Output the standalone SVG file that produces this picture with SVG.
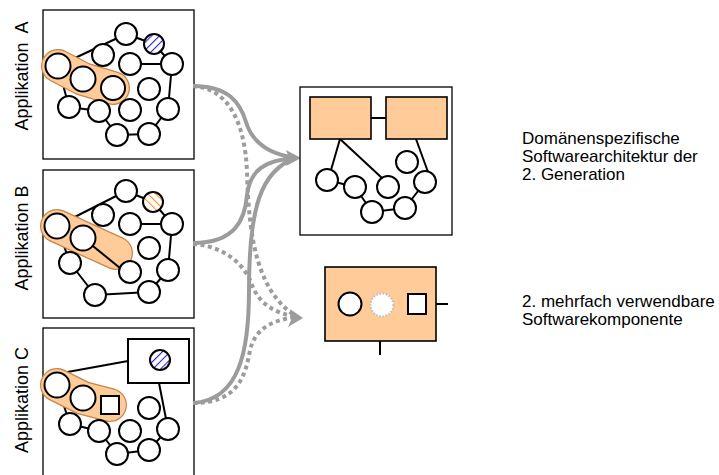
<svg xmlns="http://www.w3.org/2000/svg" width="719" height="475" viewBox="0 0 719 475">
  <defs>
    <pattern id="hatchBlue" patternUnits="userSpaceOnUse" width="5.5" height="5.5" patternTransform="rotate(45)">
      <rect width="5.5" height="5.5" fill="#ffffff"/>
      <line x1="0" y1="0" x2="0" y2="5.5" stroke="#2a2acc" stroke-width="2.2"/>
    </pattern>
    <pattern id="hatchOrange" patternUnits="userSpaceOnUse" width="5.5" height="5.5" patternTransform="rotate(-45)">
      <rect width="5.5" height="5.5" fill="#ffffff"/>
      <line x1="0" y1="0" x2="0" y2="5.5" stroke="#ff9933" stroke-width="2.2"/>
    </pattern>
  </defs>
  <style>
    .frame { fill: #ffffff; stroke: #000000; stroke-width: 1.3; }
    .n { fill: #ffffff; stroke: #000000; stroke-width: 2; }
    .e { stroke: #000000; stroke-width: 2; fill: none; }
    .blobOut { stroke: #c8844a; fill: none; stroke-linecap: round; stroke-linejoin: round; }
    .blobIn { stroke: #ffcc99; fill: none; stroke-linecap: round; stroke-linejoin: round; }
    .peach { fill: #ffcc99; stroke: #000000; stroke-width: 1.6; }
    .flow { fill: none; stroke: #9c9c9c; stroke-width: 4; }
    .dotted { stroke-dasharray: 4 3.5; }
    .head { fill: #9c9c9c; }
    .label { font-family: "Liberation Sans", Arial, sans-serif; font-size: 17px; fill: #000000; }
    .vlabel { font-family: "Liberation Sans", Arial, sans-serif; font-size: 18px; fill: #000000; text-anchor: middle; }
  </style>

  <!-- Application A -->
  <g id="app-a">
    <rect class="frame" x="43" y="10" width="151" height="149"/>
    <text class="vlabel" transform="translate(28,76) rotate(-90)" xml:space="preserve">Applikation  A</text>
    <g class="e">
      <line x1="126" y1="34" x2="58" y2="66"/>
      <line x1="126" y1="34" x2="154" y2="44"/>
      <line x1="154" y1="44" x2="172" y2="64"/>
      <line x1="130" y1="64" x2="172" y2="64"/>
      <line x1="172" y1="64" x2="168" y2="109"/>
      <line x1="168" y1="109" x2="149" y2="134"/>
      <line x1="149" y1="134" x2="117" y2="135"/>
      <line x1="117" y1="135" x2="99" y2="111"/>
      <line x1="99" y1="111" x2="69" y2="107"/>
      <line x1="69" y1="107" x2="58" y2="66"/>
    </g>
    <polyline class="blobOut" stroke-width="34" points="58,66 83,79 113,88"/>
    <polyline class="blobIn" stroke-width="31.5" points="58,66 83,79 113,88"/>
    <circle class="n" cx="126" cy="34" r="11"/>
    <circle class="n" cx="154" cy="44" r="10" style="fill:url(#hatchBlue)"/>
    <circle class="n" cx="103" cy="55" r="11"/>
    <circle class="n" cx="130" cy="64" r="11"/>
    <circle class="n" cx="172" cy="64" r="11"/>
    <circle class="n" cx="58" cy="66" r="12.5"/>
    <circle class="n" cx="83" cy="79" r="12.5"/>
    <circle class="n" cx="113" cy="88" r="12"/>
    <circle class="n" cx="149" cy="89" r="11"/>
    <circle class="n" cx="69" cy="107" r="11"/>
    <circle class="n" cx="99" cy="111" r="11"/>
    <circle class="n" cx="130" cy="110" r="11"/>
    <circle class="n" cx="168" cy="109" r="11"/>
    <circle class="n" cx="117" cy="135" r="11"/>
    <circle class="n" cx="149" cy="134" r="11"/>
  </g>

  <!-- Application B -->
  <g id="app-b">
    <rect class="frame" x="43" y="170" width="151" height="148"/>
    <text class="vlabel" transform="translate(28,238) rotate(-90)">Applikation B</text>
    <g class="e">
      <line x1="126" y1="191" x2="57" y2="226"/>
      <line x1="126" y1="191" x2="153" y2="202"/>
      <line x1="153" y1="202" x2="172" y2="224"/>
      <line x1="130" y1="224" x2="172" y2="224"/>
      <line x1="172" y1="224" x2="168" y2="270"/>
      <line x1="168" y1="270" x2="149" y2="292"/>
      <line x1="149" y1="292" x2="95" y2="295"/>
      <line x1="95" y1="295" x2="70" y2="263"/>
      <line x1="70" y1="263" x2="57" y2="226"/>
    </g>
    <polyline class="blobOut" stroke-width="34" points="57,226 83,238 116,253"/>
    <polyline class="blobIn" stroke-width="31.5" points="57,226 83,238 116,253"/>
    <line class="e" x1="83" y1="238" x2="120" y2="268"/>
    <circle class="n" cx="126" cy="191" r="11"/>
    <circle class="n" cx="153" cy="202" r="10" style="fill:url(#hatchOrange)"/>
    <circle class="n" cx="103" cy="215" r="11"/>
    <circle class="n" cx="130" cy="224" r="11"/>
    <circle class="n" cx="172" cy="224" r="11"/>
    <circle class="n" cx="57" cy="226" r="12.5"/>
    <circle class="n" cx="83" cy="238" r="12.5"/>
    <circle class="n" cx="149" cy="248" r="11"/>
    <circle class="n" cx="70" cy="263" r="11"/>
    <circle class="n" cx="130" cy="272" r="11"/>
    <circle class="n" cx="168" cy="270" r="11"/>
    <circle class="n" cx="95" cy="295" r="11"/>
    <circle class="n" cx="149" cy="292" r="11"/>
  </g>

  <!-- Application C -->
  <g id="app-c">
    <rect class="frame" x="43" y="328" width="151" height="160"/>
    <text class="vlabel" transform="translate(28,400) rotate(-90)">Applikation C</text>
    <g class="e">
      <line x1="62" y1="373" x2="128" y2="361"/>
      <line x1="159" y1="383" x2="168" y2="429"/>
      <line x1="168" y1="429" x2="149" y2="450"/>
      <line x1="149" y1="450" x2="117" y2="454"/>
      <line x1="117" y1="454" x2="99" y2="431"/>
      <line x1="99" y1="431" x2="70" y2="424"/>
      <line x1="70" y1="424" x2="57" y2="385"/>
    </g>
    <rect class="frame" x="128" y="339" width="61" height="44" style="stroke-width:2"/>
    <circle class="n" cx="160" cy="360" r="10" style="fill:url(#hatchBlue)"/>
    <polyline class="blobOut" stroke-width="34" points="57,385 83,398 110,405"/>
    <polyline class="blobIn" stroke-width="31.5" points="57,385 83,398 110,405"/>
    <circle class="n" cx="57" cy="385" r="12.5"/>
    <circle class="n" cx="83" cy="398" r="12.5"/>
    <rect class="n" x="101" y="396" width="18" height="18"/>
    <circle class="n" cx="149" cy="408" r="11"/>
    <circle class="n" cx="70" cy="424" r="11"/>
    <circle class="n" cx="99" cy="431" r="11"/>
    <circle class="n" cx="130" cy="431" r="11"/>
    <circle class="n" cx="168" cy="429" r="11"/>
    <circle class="n" cx="117" cy="454" r="11"/>
    <circle class="n" cx="149" cy="450" r="11"/>
  </g>

  <!-- Flows from the applications -->
  <g id="connectors">
    <path class="flow" d="M193,86 C228,86 240,102 246,122 C252,142 268,154 296,158"/>
    <path class="flow dotted" d="M193,86 C228,88 245,122 247,172 C249,242 258,292 297,317"/>
    <path class="flow" d="M193,243 C235,243 245,220 247,195 C250,170 265,160 296,158"/>
    <path class="flow dotted" d="M193,244 C225,246 245,265 252,285 C260,305 275,313 297,317"/>
    <path class="flow" d="M193,403 C240,400 249,350 249,290 C249,210 260,170 296,158"/>
    <path class="flow dotted" d="M193,403 C235,403 245,380 250,350 C255,330 270,320 297,317"/>
    <polygon class="head" points="301,158 286,150 289,158 286,166"/>
    <polygon class="head" points="303,318 290,309 292,318 288,327"/>
  </g>

  <!-- Domain-specific architecture -->
  <g id="architecture">
    <rect class="frame" x="300" y="87" width="152" height="148"/>
    <g class="e">
      <line x1="371" y1="118" x2="386" y2="118"/>
      <line x1="340" y1="139" x2="331" y2="170"/>
      <line x1="340" y1="139" x2="382" y2="178"/>
      <line x1="416" y1="139" x2="428" y2="172"/>
      <line x1="327" y1="180" x2="355" y2="187"/>
      <line x1="355" y1="187" x2="372" y2="212"/>
      <line x1="372" y1="212" x2="405" y2="208"/>
      <line x1="405" y1="208" x2="425" y2="182"/>
    </g>
    <rect class="peach" x="310" y="97" width="61" height="42"/>
    <rect class="peach" x="386" y="97" width="61" height="42"/>
    <circle class="n" cx="327" cy="180" r="11"/>
    <circle class="n" cx="355" cy="187" r="11"/>
    <circle class="n" cx="372" cy="212" r="11"/>
    <circle class="n" cx="388" cy="187" r="11"/>
    <circle class="n" cx="407" cy="162" r="11"/>
    <circle class="n" cx="425" cy="182" r="11"/>
    <circle class="n" cx="405" cy="208" r="11"/>
  </g>
  <text class="label" x="522" y="144">Domänenspezifische</text>
  <text class="label" x="522" y="162">Softwarearchitektur der</text>
  <text class="label" x="522" y="180">2. Generation</text>

  <!-- Reusable component -->
  <g id="component">
    <line class="e" x1="436" y1="304" x2="448" y2="304"/>
    <line class="e" x1="380" y1="341" x2="380" y2="355"/>
    <rect class="peach" x="325" y="267" width="111" height="74"/>
    <circle class="n" cx="350" cy="304" r="11.5"/>
    <circle cx="382" cy="305" r="11.5" fill="#ffffff" stroke="#c0c0c0" stroke-width="2.2" stroke-dasharray="1.6 1.6"/>
    <rect class="n" x="408" y="294" width="18" height="20"/>
  </g>
  <text class="label" x="522" y="307">2. mehrfach verwendbare</text>
  <text class="label" x="522" y="325">Softwarekomponente</text>
</svg>
